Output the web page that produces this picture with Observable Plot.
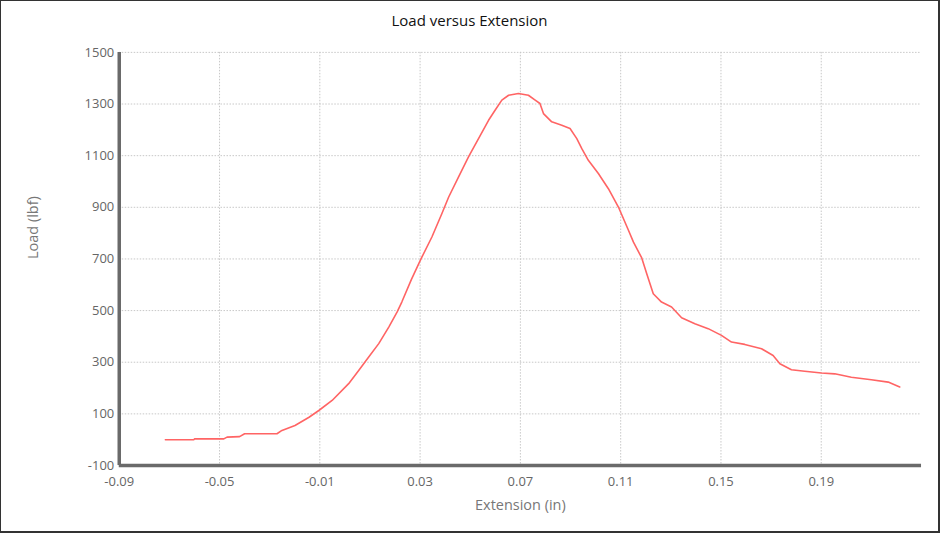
<!DOCTYPE html>
<html>
<head>
<meta charset="utf-8">
<script src="https://cdn.jsdelivr.net/npm/d3@7"></script>
<script src="https://cdn.jsdelivr.net/npm/@observablehq/plot@0.6"></script>
<style>
  html, body { margin: 0; padding: 0; background: #fff; }
  #wrap { position: relative; width: 940px; height: 533px; box-sizing: border-box;
          border: 1px solid #333; border-right-width: 2px; border-bottom-width: 2px; overflow: hidden; }
  #title { position: absolute; left: 0; top: 9px; width: 100%; text-align: center;
           font: 15px "Open Sans", sans-serif; color: #111; }
  #chart { position: absolute; left: -1px; top: -1px; }
</style>
</head>
<body>
<div id="wrap">
  <div id="chart"></div>
  <div id="title">Load versus Extension</div>
</div>
<script>
const extension = [-0.0716, -0.0602, -0.0600, -0.0483, -0.0470, -0.0420, -0.0400, -0.0271,
  -0.0251, -0.0199, -0.0143, -0.0104, -0.0051, 0.0015, 0.0055, 0.0095, 0.0135, 0.0175, 0.0208, 0.0227,
  0.0265, 0.0304, 0.0347, 0.0387, 0.0414, 0.0453, 0.0493, 0.0533, 0.0573, 0.0599, 0.0626, 0.0653, 0.0692,
  0.0732, 0.0759, 0.0778, 0.0792, 0.0825, 0.0865, 0.0898, 0.0925, 0.0945, 0.0971, 0.1011, 0.1051,
  0.1091, 0.1131, 0.1151, 0.1184, 0.1204, 0.1230, 0.1263, 0.1303, 0.1343, 0.1396, 0.1449, 0.1502,
  0.1542, 0.1595, 0.1662, 0.1708, 0.1735, 0.1781, 0.1834, 0.1901, 0.1954, 0.2020, 0.2100, 0.2167, 0.2213];
const load = [0, 0, 3, 3, 10, 12, 23, 23,
  36, 55, 87, 113, 152, 217, 268, 320, 372, 436, 494, 533,
  620, 701, 785, 876, 940, 1017, 1095, 1166, 1237, 1276, 1315, 1334, 1341,
  1334, 1315, 1302, 1263, 1231, 1218, 1205, 1166, 1127, 1082, 1031, 972,
  901, 811, 765, 704, 643, 565, 533, 514, 472, 449, 430, 404,
  378, 369, 352, 326, 294, 271, 265, 258, 255, 242, 232, 223, 204];
const xTicks = [-0.09, -0.05, -0.01, 0.03, 0.07, 0.11, 0.15, 0.19];
const yTicks = [-100, 100, 300, 500, 700, 900, 1100, 1300, 1500];
const xGrid = [-0.05, -0.01, 0.03, 0.07, 0.11, 0.15, 0.19];
const yGrid = [100, 300, 500, 700, 900, 1100, 1300, 1500];

const data = extension.map((e, i) => ({extension: e, load: load[i]}));

const chart = Plot.plot({
  width: 940,
  height: 533,
  marginLeft: 119,
  marginRight: 17,
  marginTop: 52,
  marginBottom: 67,
  x: {domain: [-0.09, 0.23]},
  y: {domain: [-100, 1500]},
  style: {fontFamily: "'Open Sans', sans-serif", background: "transparent"},
  marks: [
    Plot.gridX(xGrid, {stroke: "#c8c8c8", strokeOpacity: 1, strokeDasharray: "1.5,1.5"}),
    Plot.gridY(yGrid, {stroke: "#c8c8c8", strokeOpacity: 1, strokeDasharray: "1.5,1.5"}),
    Plot.axisX(xTicks, {tickSize: 0, tickPadding: 11, fontSize: 13, fill: "#666", label: null,
      tickFormat: d => d.toFixed(2)}),
    Plot.axisY(yTicks, {tickSize: 0, tickPadding: 5, fontSize: 13, fill: "#666", label: null,
      tickFormat: d => String(d)}),
    Plot.line(data, {x: "extension", y: "load", stroke: "#ff6464", strokeWidth: 1.6}),
    Plot.ruleX([-0.09], {stroke: "#6a6a6a", strokeWidth: 3.5}),
    Plot.ruleY([-100], {stroke: "#6a6a6a", strokeWidth: 3.5}),
    Plot.text(["Extension (in)"], {frameAnchor: "bottom", dy: 40, text: d => d,
      fontSize: 14.5, fill: "#777", lineAnchor: "middle"}),
    Plot.text(["Load (lbf)"], {frameAnchor: "left", dx: -86, rotate: -90, text: d => d,
      fontSize: 14.5, fill: "#777", lineAnchor: "middle"})
  ]
});
document.getElementById("chart").appendChild(chart);
</script>
</body>
</html>
